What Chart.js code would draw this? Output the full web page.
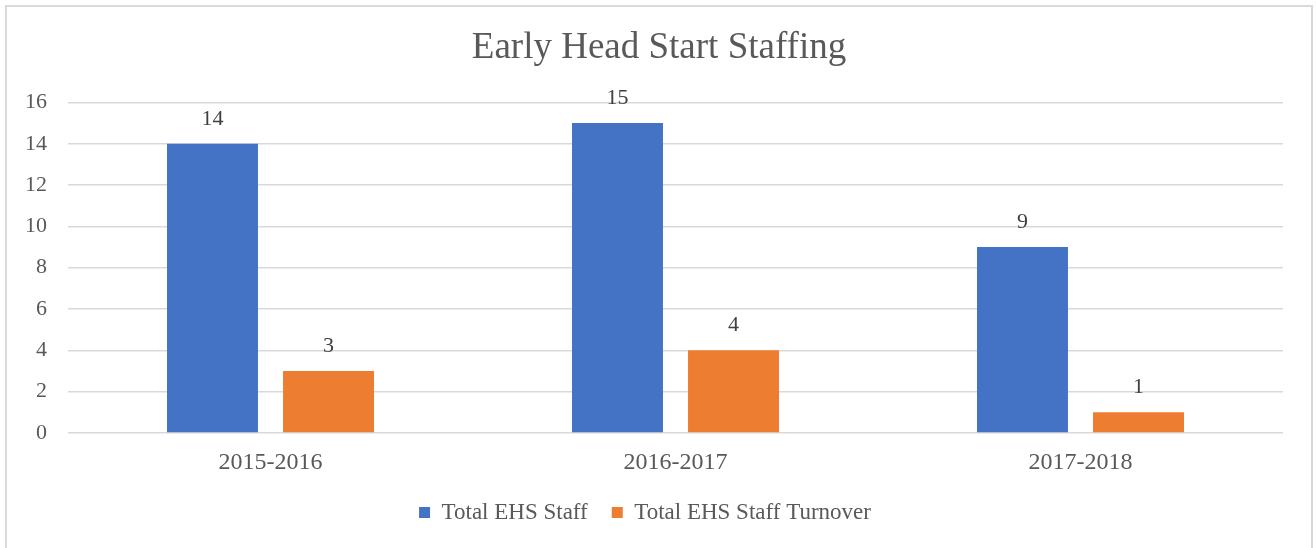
<!DOCTYPE html>
<html>
<head>
<meta charset="utf-8">
<script src="https://cdn.jsdelivr.net/npm/chart.js@4"></script>
<style>
  body { margin: 0; background: #fff; }
  #box {
    position: absolute; left: 5px; top: 5px;
    width: 1304px; height: 560px;
    border: 2px solid #d9d9d9; background: #fff;
  }
  #chart { display: block; }
</style>
</head>
<body>
<div id="box"><canvas id="chart" width="1304" height="541"></canvas></div>
<script>
const categories = ['2015-2016', '2016-2017', '2017-2018'];
const staffTotal = [14, 15, 9];
const staffTurnover = [3, 4, 1];
const seriesNames = ['Total EHS Staff', 'Total EHS Staff Turnover'];
const yTicks = [0, 2, 4, 6, 8, 10, 12, 14, 16];

const FONT = "'Liberation Serif', 'Times New Roman', serif";
const GREY = '#595959';

// simple value labels above each bar
const barLabels = {
  id: 'barLabels',
  afterDatasetsDraw(chart) {
    const ctx = chart.ctx;
    ctx.save();
    ctx.font = `22px ${FONT}`;
    ctx.fillStyle = '#404040';
    ctx.textAlign = 'center';
    ctx.textBaseline = 'middle';
    chart.data.datasets.forEach((ds, i) => {
      chart.getDatasetMeta(i).data.forEach((bar, j) => {
        ctx.fillText(String(ds.data[j]), bar.x, bar.y - 25);
      });
    });
    ctx.restore();
  }
};

// title is centred on the whole frame in the original, legend is not
const titleNudge = {
  id: 'titleNudge',
  afterInit(chart) {
    const tb = chart.titleBlock;
    const draw = tb.draw;
    tb.draw = function (area) {
      this.ctx.save();
      this.ctx.translate(14, 0);
      draw.call(this, area);
      this.ctx.restore();
    };
  }
};

new Chart(document.getElementById('chart'), {
  type: 'bar',
  data: {
    labels: categories,
    datasets: [
      { label: seriesNames[0], data: staffTotal, backgroundColor: '#4472C4' },
      { label: seriesNames[1], data: staffTurnover, backgroundColor: '#ED7D31' }
    ]
  },
  options: {
    responsive: false,
    animation: false,
    categoryPercentage: 0.573,
    barPercentage: 0.784,
    layout: { padding: { left: 0, right: 28, top: 0, bottom: 14 } },
    plugins: {
      title: {
        display: true,
        text: 'Early Head Start Staffing',
        color: GREY,
        font: { family: FONT, size: 37, weight: 'normal' },
        padding: { top: 19, bottom: 32 }
      },
      legend: {
        position: 'bottom',
        labels: {
          color: GREY,
          font: { family: FONT, size: 23 },
          boxWidth: 11,
          boxHeight: 11,
          padding: 24
        }
      },
      tooltip: { enabled: false }
    },
    scales: {
      x: {
        afterFit(scale) { scale.height = 44; },
        grid: { display: false, drawTicks: false },
        border: { display: false },
        ticks: { color: GREY, font: { family: FONT, size: 24 }, padding: 15 }
      },
      y: {
        min: 0,
        max: 16,
        afterFit(scale) { scale.width = 61; },
        afterBuildTicks(scale) { scale.ticks = yTicks.map(v => ({ value: v })); },
        grid: { color: '#d9d9d9', lineWidth: 1.5, drawTicks: false },
        border: { display: false },
        ticks: { color: GREY, font: { family: FONT, size: 22 }, padding: 21 }
      }
    }
  },
  plugins: [barLabels, titleNudge]
});
</script>
</body>
</html>
